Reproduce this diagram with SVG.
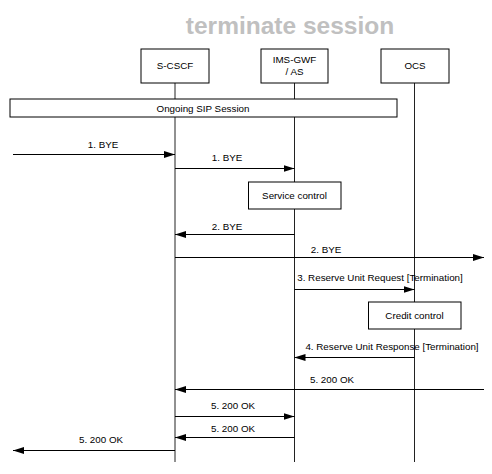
<svg xmlns="http://www.w3.org/2000/svg" width="492" height="474" viewBox="0 0 492 474">
<style>
text{font-family:"Liberation Sans",Arial,sans-serif;font-size:9.8px;fill:#000;text-anchor:middle}
.title{font-size:24.5px;font-weight:bold;fill:#c0c0c0}
.box{fill:#fff;stroke:#000;stroke-width:1}
.life{stroke:#222;stroke-width:1}
.msg{stroke:#000;stroke-width:1;fill:none;marker-end:url(#ah)}
</style>
<defs>
<marker id="ah" markerWidth="11" markerHeight="7" refX="11" refY="3.5" orient="auto" markerUnits="userSpaceOnUse">
<path d="M0,0 L11,3.5 L0,7 Z" fill="#000"/>
</marker>
</defs>
<rect width="492" height="474" fill="#fff"/>
<text class="title" x="290" y="34">terminate session</text>
<g id="lifelines">
<line class="life" x1="175" y1="83" x2="175" y2="462"/>
<line class="life" x1="294.5" y1="83" x2="294.5" y2="462"/>
<line class="life" x1="414.5" y1="83" x2="414.5" y2="462"/>
</g>
<g id="s-cscf"><rect class="box" x="141" y="49" width="68" height="34"/><text x="175" y="69">S-CSCF</text></g>
<g id="ims-gwf"><rect class="box" x="261" y="49" width="67" height="34"/><text x="294.5" y="63">IMS-GWF</text><text x="294.5" y="75">/ AS</text></g>
<g id="ocs"><rect class="box" x="381" y="49" width="68" height="34"/><text x="415" y="69">OCS</text></g>
<g id="session"><rect class="box" x="10" y="99" width="387" height="18"/><text x="203" y="112">Ongoing SIP Session</text></g>
<g id="service-control"><rect class="box" x="248.5" y="182" width="92.5" height="27"/><text x="294.5" y="199">Service control</text></g>
<g id="credit-control"><rect class="box" x="368.5" y="302" width="92.5" height="27"/><text x="414.5" y="319">Credit control</text></g>
<g id="connectors">
<line class="msg" x1="13" y1="154.5" x2="175" y2="154.5"/>
<line class="msg" x1="175" y1="168.5" x2="294.5" y2="168.5"/>
<line class="msg" x1="294.5" y1="234.5" x2="175" y2="234.5"/>
<line class="msg" x1="175" y1="257.5" x2="484" y2="257.5"/>
<line class="msg" x1="294.5" y1="289.5" x2="414.5" y2="289.5"/>
<line class="msg" x1="414.5" y1="357.5" x2="294.5" y2="357.5"/>
<line class="msg" x1="484" y1="389.5" x2="175" y2="389.5"/>
<line class="msg" x1="175" y1="416.5" x2="294.5" y2="416.5"/>
<line class="msg" x1="294.5" y1="437.5" x2="175" y2="437.5"/>
<line class="msg" x1="175" y1="450.5" x2="13" y2="450.5"/>
</g>
<g id="labels">
<text x="103" y="148">1. BYE</text>
<text x="227" y="161">1. BYE</text>
<text x="227" y="230">2. BYE</text>
<text x="326" y="253">2. BYE</text>
<text x="380" y="281">3. Reserve Unit Request [Termination]</text>
<text x="392" y="350">4. Reserve Unit Response [Termination]</text>
<text x="332" y="383">5. 200 OK</text>
<text x="233" y="409">5. 200 OK</text>
<text x="233" y="432">5. 200 OK</text>
<text x="101" y="443">5. 200 OK</text>
</g>
</svg>
